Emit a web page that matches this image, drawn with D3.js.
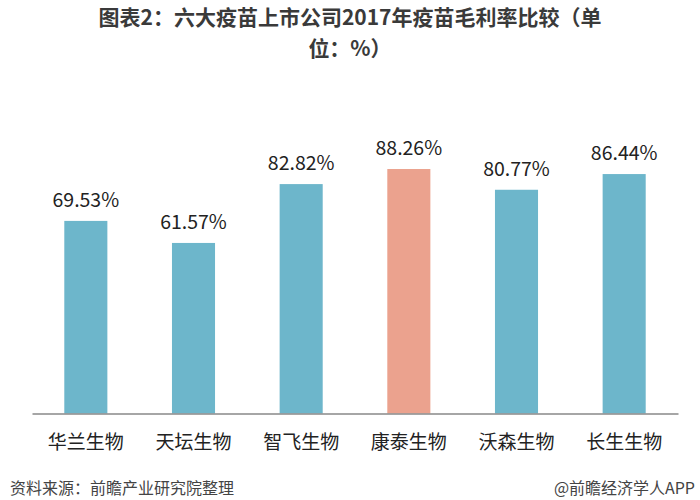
<!DOCTYPE html>
<html><head><meta charset="utf-8">
<script src="https://cdn.jsdelivr.net/npm/d3@7"></script>
<style>body{margin:0;background:#fff}svg{display:block}</style>
</head><body>
<script>
const categories = ["华兰生物","天坛生物","智飞生物","康泰生物","沃森生物","长生生物"];
const values = [69.53, 61.57, 82.82, 88.26, 80.77, 86.44];
const labels = ["69.53%","61.57%","82.82%","88.26%","80.77%","86.44%"];
const highlight = "康泰生物";
const titleLines = ["图表2：六大疫苗上市公司2017年疫苗毛利率比较（单","位：%）"];
const source = "资料来源：前瞻产业研究院整理";
const credit = "@前瞻经济学人APP";

const W = 700, H = 500;
const font = "'Noto Sans CJK SC','Noto Sans',sans-serif";
const svg = d3.select("body").append("svg").attr("width", W).attr("height", H);

const x = d3.scaleBand().domain(categories).range([32, 678]).paddingInner(0.6).paddingOuter(0.3);
const y = d3.scaleLinear().domain([0, 100]).range([413.5, 136.5]);

svg.selectAll("text.title").data(titleLines).join("text")
  .attr("x", W/2).attr("y", (d,i)=> 25 + i*31)
  .attr("text-anchor","middle").attr("font-family",font).attr("font-weight","bold")
  .attr("font-size",21).attr("fill","#3a3a3a").text(d=>d);

svg.selectAll("rect.bar").data(values).join("rect")
  .attr("x",(d,i)=>x(categories[i])).attr("width",x.bandwidth())
  .attr("y",d=>y(d)).attr("height",d=>y(0)-y(d))
  .attr("fill",(d,i)=>categories[i]===highlight?"#eba28e":"#6db6cb");

svg.selectAll("text.val").data(values).join("text")
  .attr("x",(d,i)=>x(categories[i])+x.bandwidth()/2).attr("y",d=>y(d)-14)
  .attr("text-anchor","middle").attr("font-family",font).attr("font-size",19.5)
  .attr("fill","#222").text((d,i)=>labels[i]);

const ax = svg.append("g").attr("transform",`translate(0,${y(0)})`)
  .call(d3.axisBottom(x).tickSize(0).tickPadding(22));
ax.select(".domain").attr("stroke","#888").attr("stroke-width",1.5);
ax.selectAll("text").attr("font-family",font).attr("font-size",19).attr("fill","#222");

svg.append("text").attr("x",10).attr("y",494).attr("font-family",font).attr("font-size",16)
  .attr("fill","#444").text(source);
svg.append("text").attr("x",695).attr("y",494).attr("text-anchor","end").attr("font-family",font)
  .attr("font-size",16).attr("fill","#444").text(credit);
</script>
</body></html>
